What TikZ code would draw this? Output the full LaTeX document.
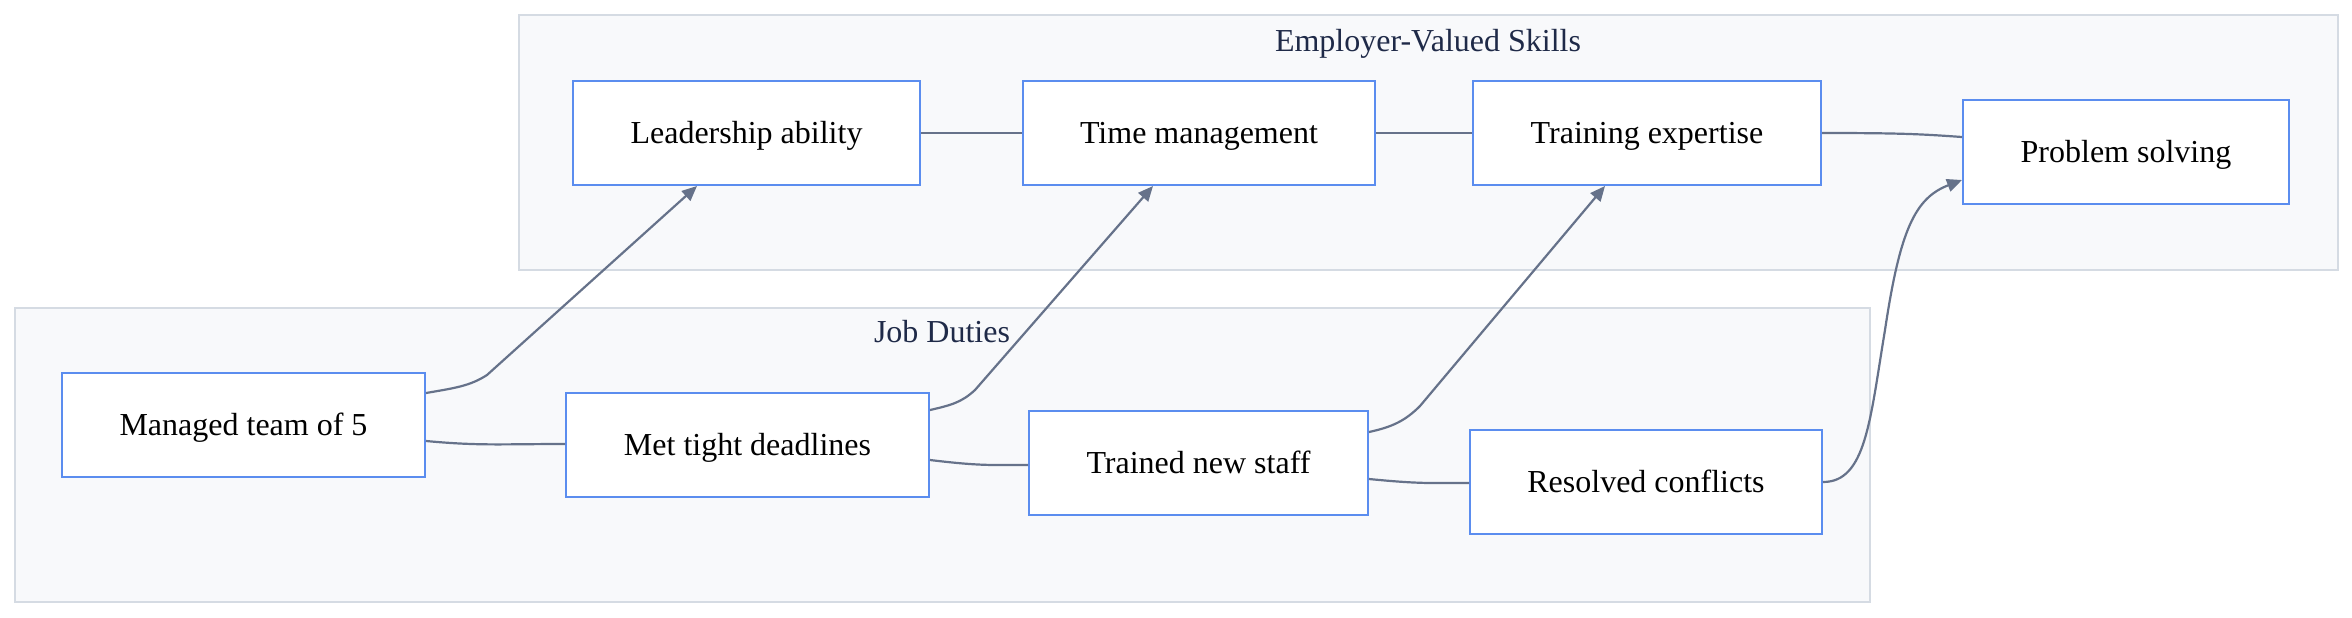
\documentclass[tikz,border=0pt]{standalone}
\usepackage{fontspec}
\setmainfont{Liberation Serif}
\usetikzlibrary{arrows.meta}
\definecolor{boxblue}{HTML}{5B8DEF}
\definecolor{edgegray}{HTML}{66728A}
\definecolor{clusterfill}{HTML}{F8F9FB}
\definecolor{clusterline}{HTML}{D5DBE3}
\definecolor{titlenavy}{HTML}{1F2A48}
\tikzset{
  stepbox/.style={draw=boxblue, line width=1pt, fill=white, rectangle, minimum height=52pt, inner sep=0pt, text height=13pt, text depth=2.5pt, font=\fontsize{16}{19}\selectfont, text=black},
  cluster/.style={draw=clusterline, line width=1pt, fill=clusterfill},
  ctitle/.style={font=\fontsize{16}{19}\selectfont, text=titlenavy},
  link/.style={draw=edgegray, line width=1.1pt},
  arrowlink/.style={link, -{Triangle[length=7.5pt,width=6.5pt]}}
}
\begin{document}
\begin{tikzpicture}[x=0.5pt,y=-0.5pt]
\useasboundingbox (0,0) rectangle (2352,617);
% clusters
\path[cluster] (519,15) rectangle (2338,270);
\path[cluster] (15,308) rectangle (1870,602);
\node[ctitle] (tskills) at (1428,43.5) {Employer-Valued Skills};
\node[ctitle] (tduties) at (942,332) {Job Duties};
% skill nodes
\node[stepbox, minimum width=173.5pt] (lead) at (746.5,133) {Leadership ability};
\node[stepbox, minimum width=176pt] (time) at (1199,133) {Time management};
\node[stepbox, minimum width=174pt] (train) at (1647,133) {Training expertise};
\node[stepbox, minimum width=163pt] (prob) at (2126,152) {Problem solving};
% duty nodes
\node[stepbox, minimum width=181.5pt] (man) at (243.5,425) {Managed team of 5};
\node[stepbox, minimum width=181.5pt] (met) at (747.5,445) {Met tight deadlines};
\node[stepbox, minimum width=169.5pt] (trn) at (1198.5,463) {Trained new staff};
\node[stepbox, minimum width=176pt] (res) at (1646,482) {Resolved conflicts};
% skill chain
\draw[link] (lead.east) -- (time.west);
\draw[link] (time.east) -- (train.west);
\draw[link] (train.east) .. controls (1900,133) and (1920,134) .. ([yshift=7.5pt]prob.west);
% duty chain
\draw[link] ([yshift=-8pt]man.east) .. controls (480,446) and (500,444) .. ([yshift=0.5pt]met.west);
\draw[link] ([yshift=-7.5pt]met.east) .. controls (980,466) and (990,465) .. ([yshift=-1pt]trn.west);
\draw[link] ([yshift=-8pt]trn.east) .. controls (1420,484) and (1430,483) .. ([yshift=-0.5pt]res.west);
% duties to skills
\draw[arrowlink] ([yshift=16pt]man.east) .. controls (455,388) and (470,386) .. (487,375) -- ([xshift=-24.75pt]lead.south);
\draw[arrowlink] ([yshift=17.5pt]met.east) .. controls (952,405) and (962,402) .. (975,390) -- ([xshift=-23pt]time.south);
\draw[arrowlink] ([yshift=15.5pt]trn.east) .. controls (1392,427) and (1405,421) .. (1420,406) -- ([xshift=-21pt]train.south);
\draw[arrowlink] (res.east) .. controls (1866,482) and (1870,420) .. (1885,330) .. controls (1900,230) and (1915,198) .. ([yshift=-14pt]prob.west);
\end{tikzpicture}
\end{document}
